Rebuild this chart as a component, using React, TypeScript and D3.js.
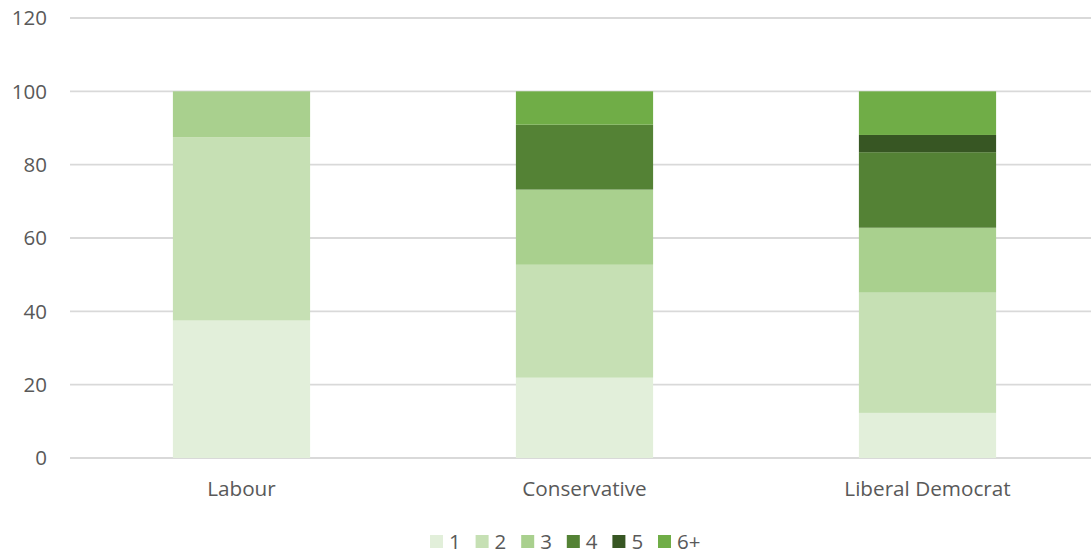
import React from "react";
import * as d3 from "d3";

const categories = ["Labour", "Conservative", "Liberal Democrat"];
const seriesKeys = ["1", "2", "3", "4", "5", "6+"];
const s1 = [37.5, 21.9, 12.3];
const s2 = [50.0, 30.8, 32.8];
const s3 = [12.5, 20.5, 17.7];
const s4 = [0, 17.7, 20.6];
const s5 = [0, 0, 4.7];
const s6 = [0, 9.1, 11.9];
const yTicks = [0, 20, 40, 60, 80, 100, 120];
const colors = ["#e2efda", "#c6e0b4", "#a9d08e", "#548235", "#375623", "#70ad47"];

const W = 1091;
const H = 556;

export default function App() {
  const seriesVals = [s1, s2, s3, s4, s5, s6];
  const rows = categories.map((c, i) => {
    const r: any = { cat: c };
    seriesKeys.forEach((k, j) => (r[k] = seriesVals[j][i]));
    return r;
  });
  const stacked = d3.stack().keys(seriesKeys)(rows);
  const y = d3.scaleLinear().domain([0, 120]).range([458, 18]);
  const x = d3.scaleBand().domain(categories).range([70, 1099]).paddingInner(0).paddingOuter(0);
  const bw = x.bandwidth() * 0.4;
  const font = "'Open Sans', sans-serif";
  return (
    <svg width={W} height={H} style={{ position: "absolute", left: 0, top: 0 }}>
      <rect width={W} height={H} fill="#fff" />
      {yTicks.map((t) => (
        <g key={t}>
          <line x1={70} x2={W} y1={y(t)} y2={y(t)} stroke="#d9d9d9" strokeWidth={1.8} />
          <text x={47} y={y(t)} dy="0.36em" textAnchor="end" fontFamily={font} fontSize={20.5} fill="#595959">
            {t}
          </text>
        </g>
      ))}
      {stacked.map((layer, j) => (
        <g key={layer.key}>
          {layer.map((d, i) =>
            d[1] - d[0] > 0 ? (
              <rect
                key={i}
                x={(x(categories[i]) as number) + (x.bandwidth() - bw) / 2}
                width={bw}
                y={y(d[1])}
                height={y(d[0]) - y(d[1])}
                fill={colors[j]}
              />
            ) : null
          )}
        </g>
      ))}
      {categories.map((c) => (
        <text key={c} x={(x(c) as number) + x.bandwidth() / 2} y={496} textAnchor="middle" fontFamily={font} fontSize={20.7} fill="#595959">
          {c}
        </text>
      ))}
      {seriesKeys.map((k, j) => {
        const lx = 430 + j * 45.6;
        return (
          <g key={k}>
            <rect x={lx} y={535} width={13} height={13} fill={colors[j]} />
            <text x={lx + 19} y={549} fontFamily={font} fontSize={20.5} fill="#595959">
              {k}
            </text>
          </g>
        );
      })}
    </svg>
  );
}
